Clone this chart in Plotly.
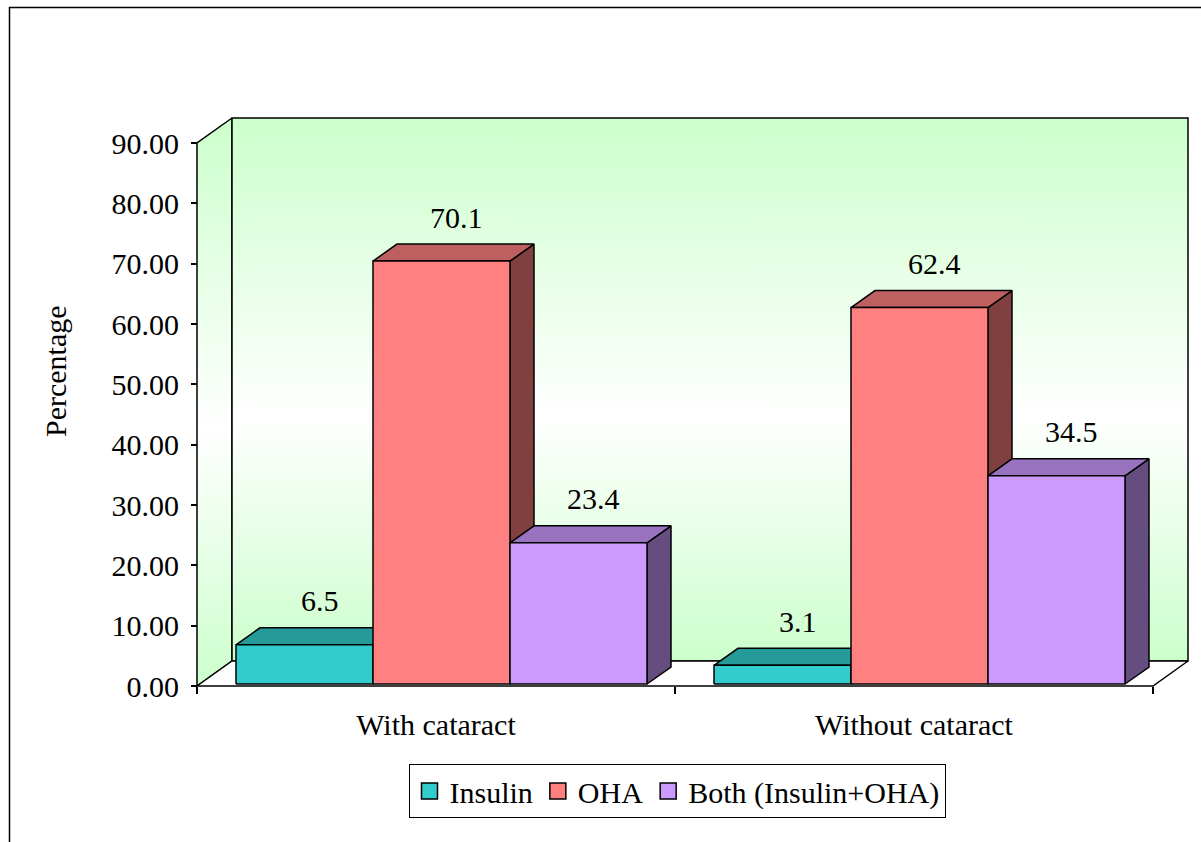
import plotly.graph_objects as go

# ---------------- data ----------------
categories = ["With cataract", "Without cataract"]
series_names = ["Insulin", "OHA", "Both (Insulin+OHA)"]
insulin = [6.5, 3.1]
oha = [70.1, 62.4]
both = [23.4, 34.5]
y_ticks = [0, 10, 20, 30, 40, 50, 60, 70, 80, 90]

series_values = [insulin, oha, both]
front_colors = ["#33CCCC", "#FF8080", "#CC99FF"]
top_colors = ["#269999", "#BF6060", "#9973BF"]
side_colors = ["#1A6666", "#804040", "#664D80"]

# ---------------- geometry (pixel layout) ----------------
W, H = 1201, 842
X0_PX, UNIT_X = 197, 478.0          # front-left corner, px per category
Y0_PX, UNIT_Y = 686, 543.0 / 90.0   # floor line, px per percent
L_PX, R_PX, T_PX, B_PX = 183, 1196, 113, 692


def u_of(px):
    return (px - X0_PX) / UNIT_X


def v_of(py):
    return (Y0_PX - py) / UNIT_Y


def paper_x(px):
    return (px - L_PX) / (R_PX - L_PX)


def paper_y(py):
    return (B_PX - py) / (B_PX - T_PX)


DX, DY = 35 / UNIT_X, 25 / UNIT_Y          # wall depth
GAP, BW = 36 / UNIT_X, 137 / UNIT_X        # gap and bar width
FDX, FDY = 3 / UNIT_X, 2 / UNIT_Y          # bar front offset
BDX, BDY = 24 / UNIT_X, 17 / UNIT_Y        # bar depth
YMAX = y_ticks[-1]
NCAT = len(categories)

FONT = "Liberation Serif"
FS = 30
EDGE = dict(color="black", width=1.5)

fig = go.Figure()

wall_scale = [[0, "#CCFFCC"], [0.45, "#FFFFFF"], [1, "#CCFFCC"]]

# side wall
fig.add_trace(go.Scatter(
    x=[0, 0, DX, DX, 0], y=[0, YMAX, YMAX + DY, DY, 0],
    fill="toself", mode="lines", line=EDGE,
    fillgradient=dict(type="vertical", colorscale=wall_scale, start=0, stop=YMAX + DY),
    showlegend=False, hoverinfo="skip"))
# back wall
fig.add_trace(go.Scatter(
    x=[DX, NCAT + DX, NCAT + DX, DX, DX], y=[DY, DY, YMAX + DY, YMAX + DY, DY],
    fill="toself", mode="lines", line=EDGE,
    fillgradient=dict(type="vertical", colorscale=wall_scale, start=DY, stop=YMAX + DY),
    showlegend=False, hoverinfo="skip"))
# floor
fig.add_trace(go.Scatter(
    x=[0, NCAT, NCAT + DX, DX, 0], y=[0, 0, DY, DY, 0],
    fill="toself", mode="lines", line=EDGE, fillcolor="white",
    showlegend=False, hoverinfo="skip"))

annotations = []
for i, (name, vals) in enumerate(zip(series_names, series_values)):
    fx, fy, tx, ty, sx, sy = [], [], [], [], [], []
    for g, val in enumerate(vals):
        x0 = g + GAP + i * BW + FDX
        x1 = x0 + BW
        y0 = FDY
        y1 = val + FDY
        fx += [x0, x1, x1, x0, x0, None]
        fy += [y0, y0, y1, y1, y0, None]
        tx += [x0, x1, x1 + BDX, x0 + BDX, x0, None]
        ty += [y1, y1, y1 + BDY, y1 + BDY, y1, None]
        sx += [x1, x1 + BDX, x1 + BDX, x1, x1, None]
        sy += [y0, y0 + BDY, y1 + BDY, y1, y0, None]
        annotations.append(dict(
            x=(x0 + x1) / 2, y=val, xref="x", yref="y",
            text=f"{val}", showarrow=False, xanchor="center", yanchor="middle",
            xshift=15, yshift=46, font=dict(family=FONT, size=FS, color="black")))
    fig.add_trace(go.Scatter(x=sx, y=sy, fill="toself", mode="lines", line=EDGE,
                             fillcolor=side_colors[i], showlegend=False, hoverinfo="skip"))
    fig.add_trace(go.Scatter(x=tx, y=ty, fill="toself", mode="lines", line=EDGE,
                             fillcolor=top_colors[i], showlegend=False, hoverinfo="skip"))
    fig.add_trace(go.Scatter(x=fx, y=fy, fill="toself", mode="lines", line=EDGE,
                             fillcolor=front_colors[i], name=name, showlegend=False,
                             hoverinfo="skip"))

# legend entries
for i, name in enumerate(series_names):
    fig.add_trace(go.Scatter(
        x=[None], y=[None], mode="markers", name=name,
        marker=dict(symbol="square", size=16, color=front_colors[i],
                    line=dict(color="black", width=1.5))))

# y-axis title
annotations.append(dict(
    x=paper_x(55), y=paper_y(371), xref="paper", yref="paper",
    xanchor="center", yanchor="middle",
    text="Percentage", textangle=-90, showarrow=False,
    font=dict(family=FONT, size=FS, color="black")))

shapes = [
    dict(type="line", xref="paper", yref="paper",
         x0=paper_x(9.5), x1=paper_x(9.5), y0=paper_y(7), y1=paper_y(900),
         line=dict(color="black", width=1.5)),
    dict(type="line", xref="paper", yref="paper",
         x0=paper_x(9), x1=paper_x(1300), y0=paper_y(7.5), y1=paper_y(7.5),
         line=dict(color="black", width=1.5)),
]

fig.update_layout(
    width=W, height=H,
    margin=dict(l=L_PX, r=W - R_PX, t=T_PX, b=H - B_PX, pad=0),
    paper_bgcolor="white", plot_bgcolor="white",
    font=dict(family=FONT, size=FS, color="black"),
    showlegend=True,
    legend=dict(orientation="h", x=paper_x(677), xanchor="center",
                y=paper_y(764), yanchor="top",
                bordercolor="black", borderwidth=1, bgcolor="white",
                font=dict(family=FONT, size=FS, color="black"),
                itemclick=False),
    xaxis=dict(range=[u_of(L_PX), u_of(R_PX)], anchor="free", position=paper_y(Y0_PX),
               showgrid=False, zeroline=False, showline=False,
               tickmode="array", tickvals=[g + 0.5 for g in range(NCAT)],
               ticktext=categories, ticks="", ticklabelstandoff=18,
               tickfont=dict(family=FONT, size=FS, color="black"),
               minor=dict(tickmode="array", tickvals=list(range(NCAT + 1)),
                          ticks="outside", ticklen=7, tickwidth=1.5, tickcolor="black",
                          showgrid=False),
               fixedrange=True),
    yaxis=dict(range=[v_of(B_PX), v_of(T_PX)], anchor="free", position=paper_x(X0_PX),
               showgrid=False, zeroline=False, showline=False,
               tickmode="array", tickvals=y_ticks, tickformat=".2f",
               ticks="outside", ticklen=6, tickwidth=1.5, tickcolor="black",
               ticklabelstandoff=6,
               tickfont=dict(family=FONT, size=FS, color="black"),
               fixedrange=True),
    annotations=annotations,
    shapes=shapes,
)

fig.write_html("out.html")
